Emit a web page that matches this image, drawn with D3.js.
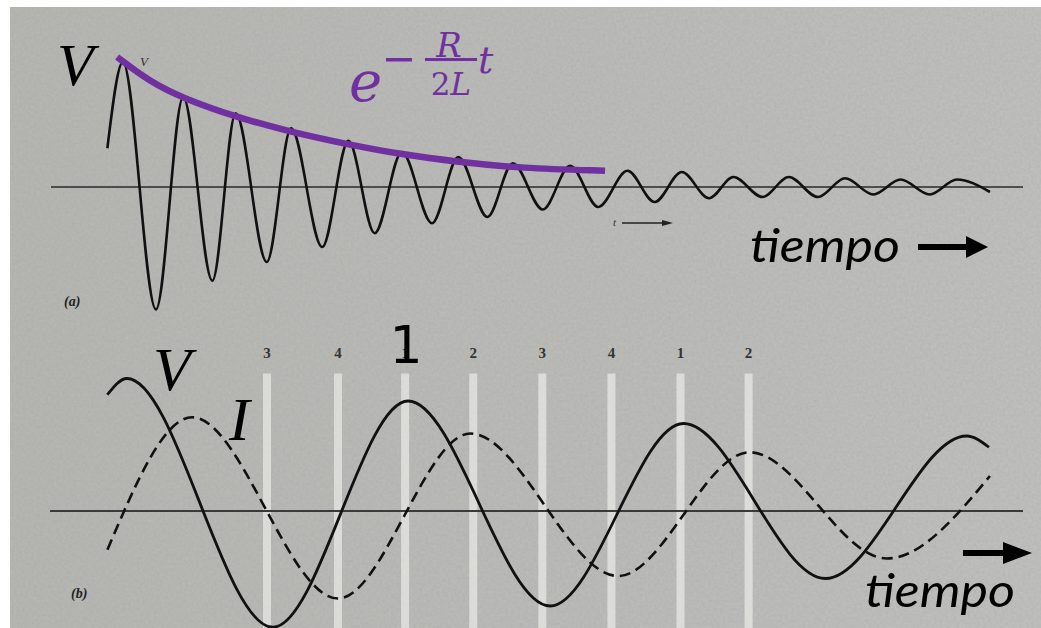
<!DOCTYPE html>
<html>
<head>
<meta charset="utf-8">
<script src="https://cdn.jsdelivr.net/npm/d3@7"></script>
<style>
  body { margin: 0; background: #fff; }
  svg { display: block; }
</style>
</head>
<body>
<div id="chart"></div>
<script>
// (a) damped oscillation: extrema, time 0..100, volts -1..1
const dampedT = [5.8, 7.4, 10.8, 13.6, 16.6, 19.0, 22.2, 24.7, 27.9, 30.6, 33.3, 36.1, 39.2, 41.9, 44.9, 47.5,
  50.6, 53.4, 56.3, 59.3, 62.1, 64.9, 67.7, 70.2, 73.2, 75.9, 78.9, 81.7, 84.6, 87.4, 90.4, 93.2, 96.6];
const dampedV = [0.31, 1.00, -0.98, 0.72, -0.75, 0.59, -0.60, 0.47, -0.48, 0.37, -0.37, 0.28, -0.29, 0.24, -0.24, 0.19,
  -0.18, 0.17, -0.16, 0.13, -0.12, 0.12, -0.09, 0.08, -0.08, 0.08, -0.08, 0.07, -0.06, 0.06, -0.06, 0.06, -0.04];

// envelope e^{-R t / 2L}
const envT = [6.8, 10.2, 13.6, 19.0, 24.7, 30.6, 36.1, 41.9, 48.3, 57.0];
const envV = [1.04, 0.84, 0.71, 0.56, 0.44, 0.34, 0.26, 0.20, 0.15, 0.13];

// (b) voltage and current
const voltT = [5.9, 7.9, 22.9, 36.8, 51.4, 65.1, 79.7, 94.2, 96.5];
const voltV = [0.93, 1.06, -0.93, 0.88, -0.76, 0.70, -0.54, 0.60, 0.51];
const currT = [5.9, 14.6, 29.6, 43.2, 58.4, 71.9, 86.0, 96.6];
const currV = [-0.31, 0.75, -0.70, 0.62, -0.52, 0.47, -0.38, 0.28];

// phase markers
const markerT = [22.3, 29.6, 36.5, 43.5, 50.6, 57.7, 64.8, 71.8];
const markerLabels = ['3', '4', '1', '2', '3', '4', '1', '2'];

const W = 1041, H = 628;
const purple = '#7030a0';

const svg = d3.select('#chart').append('svg')
    .attr('width', W)
    .attr('height', H);

// scanned paper background
const defs = svg.append('defs');
const f = defs.append('filter').attr('id', 'grain').attr('x', 0).attr('y', 0).attr('width', '100%').attr('height', '100%');
f.append('feTurbulence').attr('type', 'fractalNoise').attr('baseFrequency', 0.35).attr('numOctaves', 2).attr('seed', 3);
f.append('feColorMatrix').attr('type', 'matrix')
    .attr('values', '0 0 0 0 0.3  0 0 0 0 0.3  0 0 0 0 0.3  0 0 0 0.3 0');
f.append('feComposite').attr('in2', 'SourceGraphic').attr('operator', 'in');

const grad = defs.append('linearGradient').attr('id', 'paper').attr('x1', 0).attr('x2', 1);
grad.append('stop').attr('offset', 0).attr('stop-color', '#b8b8b4');
grad.append('stop').attr('offset', 1).attr('stop-color', '#c2c2c0');

svg.append('rect').attr('x', 10).attr('y', 7).attr('width', W - 10).attr('height', H - 7).attr('fill', 'url(#paper)');
svg.append('rect').attr('x', 10).attr('y', 7).attr('width', W - 10).attr('height', H - 7)
    .attr('fill', '#888').attr('filter', 'url(#grain)');

// scales
const xA = d3.scaleLinear().domain([0, 100]).range([51, 1023]);
const yA = d3.scaleLinear().domain([-1, 1]).range([312, 62]);
const xB = d3.scaleLinear().domain([0, 100]).range([50, 1023]);
const yB = d3.scaleLinear().domain([-1, 1]).range([636, 386]);

const zip = (ts, vs) => ts.map((t, i) => ({t: t, v: vs[i]}));

// ---------- panel (a) ----------
svg.append('line')
    .attr('x1', xA(0)).attr('x2', xA(100))
    .attr('y1', yA(0)).attr('y2', yA(0))
    .attr('stroke', '#2a2a2a').attr('stroke-width', 1.6);

const lineA = d3.line().x(d => xA(d.t)).y(d => yA(d.v)).curve(d3.curveMonotoneX);
svg.append('path')
    .attr('d', lineA(zip(dampedT, dampedV)))
    .attr('fill', 'none').attr('stroke', '#111').attr('stroke-width', 2.6);

svg.append('path')
    .attr('d', d3.line().x(d => xA(d.t)).y(d => yA(d.v)).curve(d3.curveBasis)(zip(envT, envV)))
    .attr('fill', 'none').attr('stroke', purple).attr('stroke-width', 6.5);

// small scan labels
svg.append('text').attr('x', 140).attr('y', 66)
    .attr('font-family', 'Liberation Serif').attr('font-style', 'italic').attr('font-size', 13)
    .attr('fill', '#333').text('V');
svg.append('text').attr('x', 64).attr('y', 306)
    .attr('font-family', 'Liberation Serif').attr('font-style', 'italic').attr('font-weight', 'bold').attr('font-size', 14)
    .attr('fill', '#222').text('(a)');
svg.append('text').attr('x', 613).attr('y', 226)
    .attr('font-family', 'Liberation Serif').attr('font-style', 'italic').attr('font-size', 11)
    .attr('fill', '#333').text('t');
svg.append('line').attr('x1', 622).attr('x2', 664).attr('y1', 223).attr('y2', 223)
    .attr('stroke', '#222').attr('stroke-width', 1.3);
svg.append('path').attr('d', 'M662,220 L673,223 L662,226 Z').attr('fill', '#222');

// big labels
svg.append('text').attr('x', 57).attr('y', 85)
    .attr('font-family', 'Liberation Serif').attr('font-style', 'italic').attr('font-size', 60)
    .attr('fill', '#000').text('V');

// formula e^{-R/2L t}
const fm = svg.append('g').attr('fill', purple).attr('font-family', 'DejaVu Serif');
fm.append('text').attr('x', 349).attr('y', 101).attr('font-style', 'italic').attr('font-size', 56).text('e');
fm.append('rect').attr('x', 386).attr('y', 58).attr('width', 26).attr('height', 3.5);
fm.append('text').attr('x', 449).attr('y', 57).attr('text-anchor', 'middle').attr('font-style', 'italic').attr('font-size', 34).text('R');
fm.append('rect').attr('x', 425).attr('y', 58).attr('width', 52).attr('height', 3);
fm.append('text').attr('x', 451).attr('y', 95).attr('text-anchor', 'middle').attr('font-size', 31)
    .html('2<tspan font-style="italic">L</tspan>');
fm.append('text').attr('x', 478).attr('y', 73).attr('font-style', 'italic').attr('font-size', 38).text('t');

// tiempo arrow (a)
svg.append('text').attr('x', 750).attr('y', 262)
    .attr('font-family', 'Lato').attr('font-style', 'italic').attr('font-size', 47)
    .attr('textLength', 150).attr('lengthAdjust', 'spacingAndGlyphs').attr('fill', '#000').text('tiempo');
svg.append('rect').attr('x', 918).attr('y', 244).attr('width', 50).attr('height', 6).attr('fill', '#000');
svg.append('path').attr('d', 'M966,236 L988,247 L966,258 Z').attr('fill', '#000');

// ---------- panel (b) ----------
svg.selectAll('rect.marker')
    .data(markerT).enter()
    .append('rect')
    .attr('class', 'marker')
    .attr('x', d => xB(d) - 4)
    .attr('y', yB(1.1))
    .attr('width', 8)
    .attr('height', H - yB(1.1))
    .attr('fill', '#f4f4f0').attr('opacity', 0.6);

svg.selectAll('text.marker')
    .data(markerT).enter()
    .append('text')
    .attr('class', 'marker')
    .attr('x', d => xB(d))
    .attr('y', 358)
    .attr('text-anchor', 'middle')
    .attr('font-family', 'Liberation Serif').attr('font-weight', 'bold').attr('font-size', 15)
    .attr('fill', '#333')
    .text((d, i) => markerLabels[i]);

svg.append('line')
    .attr('x1', xB(0)).attr('x2', xB(100))
    .attr('y1', yB(0)).attr('y2', yB(0))
    .attr('stroke', '#3a3a3a').attr('stroke-width', 1.8);

const lineB = d3.line().x(d => xB(d.t)).y(d => yB(d.v)).curve(d3.curveMonotoneX);
svg.append('path')
    .attr('d', lineB(zip(currT, currV)))
    .attr('fill', 'none').attr('stroke', '#111').attr('stroke-width', 2.6)
    .attr('stroke-dasharray', '11,6');
svg.append('path')
    .attr('d', lineB(zip(voltT, voltV)))
    .attr('fill', 'none').attr('stroke', '#111').attr('stroke-width', 2.8);

svg.append('text').attr('x', 71).attr('y', 598)
    .attr('font-family', 'Liberation Serif').attr('font-style', 'italic').attr('font-weight', 'bold').attr('font-size', 14)
    .attr('fill', '#222').text('(b)');

svg.append('text').attr('x', 153).attr('y', 390)
    .attr('font-family', 'Liberation Serif').attr('font-style', 'italic').attr('font-size', 62)
    .attr('fill', '#000').text('V');
svg.append('text').attr('x', 229).attr('y', 440)
    .attr('font-family', 'Liberation Serif').attr('font-style', 'italic').attr('font-size', 62)
    .attr('fill', '#000').text('I');
svg.append('text').attr('x', 406).attr('y', 363).attr('text-anchor', 'middle')
    .attr('font-family', 'DejaVu Sans').attr('font-size', 52)
    .attr('fill', '#000').text('1');

svg.append('text').attr('x', 865).attr('y', 607)
    .attr('font-family', 'Lato').attr('font-style', 'italic').attr('font-size', 47)
    .attr('textLength', 150).attr('lengthAdjust', 'spacingAndGlyphs').attr('fill', '#000').text('tiempo');
svg.append('rect').attr('x', 963).attr('y', 550).attr('width', 42).attr('height', 6).attr('fill', '#000');
svg.append('path').attr('d', 'M1003,542 L1032,553 L1003,564 Z').attr('fill', '#000');
</script>
</body>
</html>
